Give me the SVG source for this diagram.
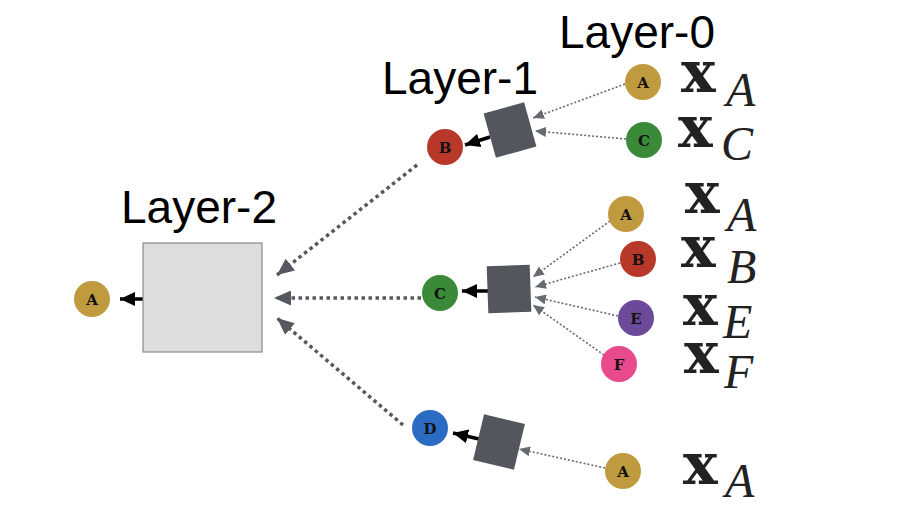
<svg xmlns="http://www.w3.org/2000/svg" width="906" height="510" viewBox="0 0 906 510">
<defs>
<style>
.lbl{font-family:"Liberation Sans",Arial,sans-serif;font-size:46px;fill:#000}
.nl{font-family:"DejaVu Serif","Liberation Serif",serif;font-weight:bold;font-size:15px;fill:#111;text-anchor:middle}
.mx{font-family:"DejaVu Serif",serif;font-weight:bold;font-size:58px;fill:#222}
.ms{font-family:"Liberation Serif","Times New Roman",serif;font-style:italic;font-size:48px;fill:#222}
.sq{fill:#53565c}
.thick{stroke:#55585e;stroke-width:3.5;stroke-dasharray:3.5 3.5;fill:none}
.thin{stroke:#676a70;stroke-width:1.6;stroke-dasharray:2 2;fill:none}
.blk{stroke:#000;stroke-width:3.5;fill:none}
.gA{fill:#bf9a3e}.gB{fill:#b8392a}.gC{fill:#3b8a3a}.gD{fill:#2c6bc3}.gE{fill:#6c4a9a}.gF{fill:#e94a8d}
</style>
<marker id="mThick" markerUnits="userSpaceOnUse" markerWidth="17" markerHeight="15" refX="17" refY="7.5" orient="auto"><path d="M0,0 L17,7.5 L0,15 z" fill="#55585e"/></marker>
<marker id="mThin" markerUnits="userSpaceOnUse" markerWidth="11" markerHeight="10" refX="11" refY="5" orient="auto"><path d="M0,0 L11,5 L0,10 z" fill="#676a70"/></marker>
<marker id="mBlk" markerUnits="userSpaceOnUse" markerWidth="15" markerHeight="14" refX="15" refY="7" orient="auto"><path d="M0,0 L15,7 L0,14 z" fill="#000"/></marker>
</defs>
<rect width="906" height="510" fill="#fff"/>

<g id="labels">
<text class="lbl" x="559" y="48">Layer-0</text>
<text class="lbl" x="382" y="94">Layer-1</text>
<text class="lbl" x="121" y="223">Layer-2</text>
</g>

<g id="connectors">
<line class="thick" x1="417" y1="165" x2="277" y2="275" marker-end="url(#mThick)"/>
<line class="thick" x1="421" y1="298" x2="274" y2="298" marker-end="url(#mThick)"/>
<line class="thick" x1="403" y1="425" x2="277" y2="318" marker-end="url(#mThick)"/>
<line class="blk" x1="143" y1="299" x2="120" y2="299" marker-end="url(#mBlk)"/>
<line class="blk" x1="490" y1="137" x2="465" y2="145" marker-end="url(#mBlk)"/>
<line class="blk" x1="488" y1="291" x2="462" y2="291" marker-end="url(#mBlk)"/>
<line class="blk" x1="479" y1="439" x2="453" y2="433" marker-end="url(#mBlk)"/>
<line class="thin" x1="625" y1="84" x2="533" y2="118" marker-end="url(#mThin)"/>
<line class="thin" x1="626" y1="139" x2="535" y2="131" marker-end="url(#mThin)"/>
<line class="thin" x1="610" y1="221" x2="533" y2="277" marker-end="url(#mThin)"/>
<line class="thin" x1="620" y1="263" x2="535" y2="287" marker-end="url(#mThin)"/>
<line class="thin" x1="618" y1="316" x2="535" y2="297" marker-end="url(#mThin)"/>
<line class="thin" x1="604" y1="355" x2="533" y2="305" marker-end="url(#mThin)"/>
<line class="thin" x1="605" y1="468" x2="519" y2="449" marker-end="url(#mThin)"/>
</g>

<g id="layer2-box"><rect x="143" y="243" width="119" height="109" fill="#dcdddf" stroke="#8a8b8e" stroke-width="1.2"/></g>
<g id="agg-top"><rect class="sq" x="-21" y="-23" width="42" height="46" transform="translate(510,130) rotate(-15.5)"/></g>
<g id="agg-mid"><rect class="sq" x="-21.5" y="-23.5" width="43" height="47" transform="translate(509,289) rotate(-2)"/></g>
<g id="agg-bot"><rect class="sq" x="-21" y="-23.5" width="42" height="47" transform="translate(499,442) rotate(13.5)"/></g>

<g id="out-A"><circle class="gA" cx="92" cy="299" r="18"/><text class="nl" x="92" y="304.5">A</text></g>
<g id="l1-B"><circle class="gB" cx="445" cy="147" r="18"/><text class="nl" x="445" y="152.5">B</text></g>
<g id="l1-C"><circle class="gC" cx="440" cy="293" r="18"/><text class="nl" x="440" y="298.5">C</text></g>
<g id="l1-D"><circle class="gD" cx="430" cy="428" r="18"/><text class="nl" x="430" y="433.5">D</text></g>

<g id="l0-A1"><circle class="gA" cx="643" cy="82" r="18"/><text class="nl" x="643" y="87.5">A</text></g>
<g id="l0-C1"><circle class="gC" cx="644" cy="140" r="18"/><text class="nl" x="644" y="145.5">C</text></g>
<g id="l0-A2"><circle class="gA" cx="626" cy="214" r="18"/><text class="nl" x="626" y="219.5">A</text></g>
<g id="l0-B2"><circle class="gB" cx="638" cy="259" r="18"/><text class="nl" x="638" y="264.5">B</text></g>
<g id="l0-E2"><circle class="gE" cx="636" cy="318" r="18"/><text class="nl" x="636" y="323.5">E</text></g>
<g id="l0-F2"><circle class="gF" cx="619" cy="364" r="18"/><text class="nl" x="619" y="369.5">F</text></g>
<g id="l0-A3"><circle class="gA" cx="623" cy="471" r="18"/><text class="nl" x="623" y="476.5">A</text></g>

<g id="features">
<text class="mx" x="681" y="92">x</text><text class="ms" x="726" y="106">A</text>
<text class="mx" x="678" y="147">x</text><text class="ms" x="721" y="160">C</text>
<text class="mx" x="685" y="213">x</text><text class="ms" x="727" y="231">A</text>
<text class="mx" x="681" y="267">x</text><text class="ms" x="727" y="283">B</text>
<text class="mx" x="683" y="325">x</text><text class="ms" x="723" y="338">E</text>
<text class="mx" x="684" y="373">x</text><text class="ms" x="724" y="388">F</text>
<text class="mx" x="683" y="484">x</text><text class="ms" x="725" y="497">A</text>
</g>
</svg>
